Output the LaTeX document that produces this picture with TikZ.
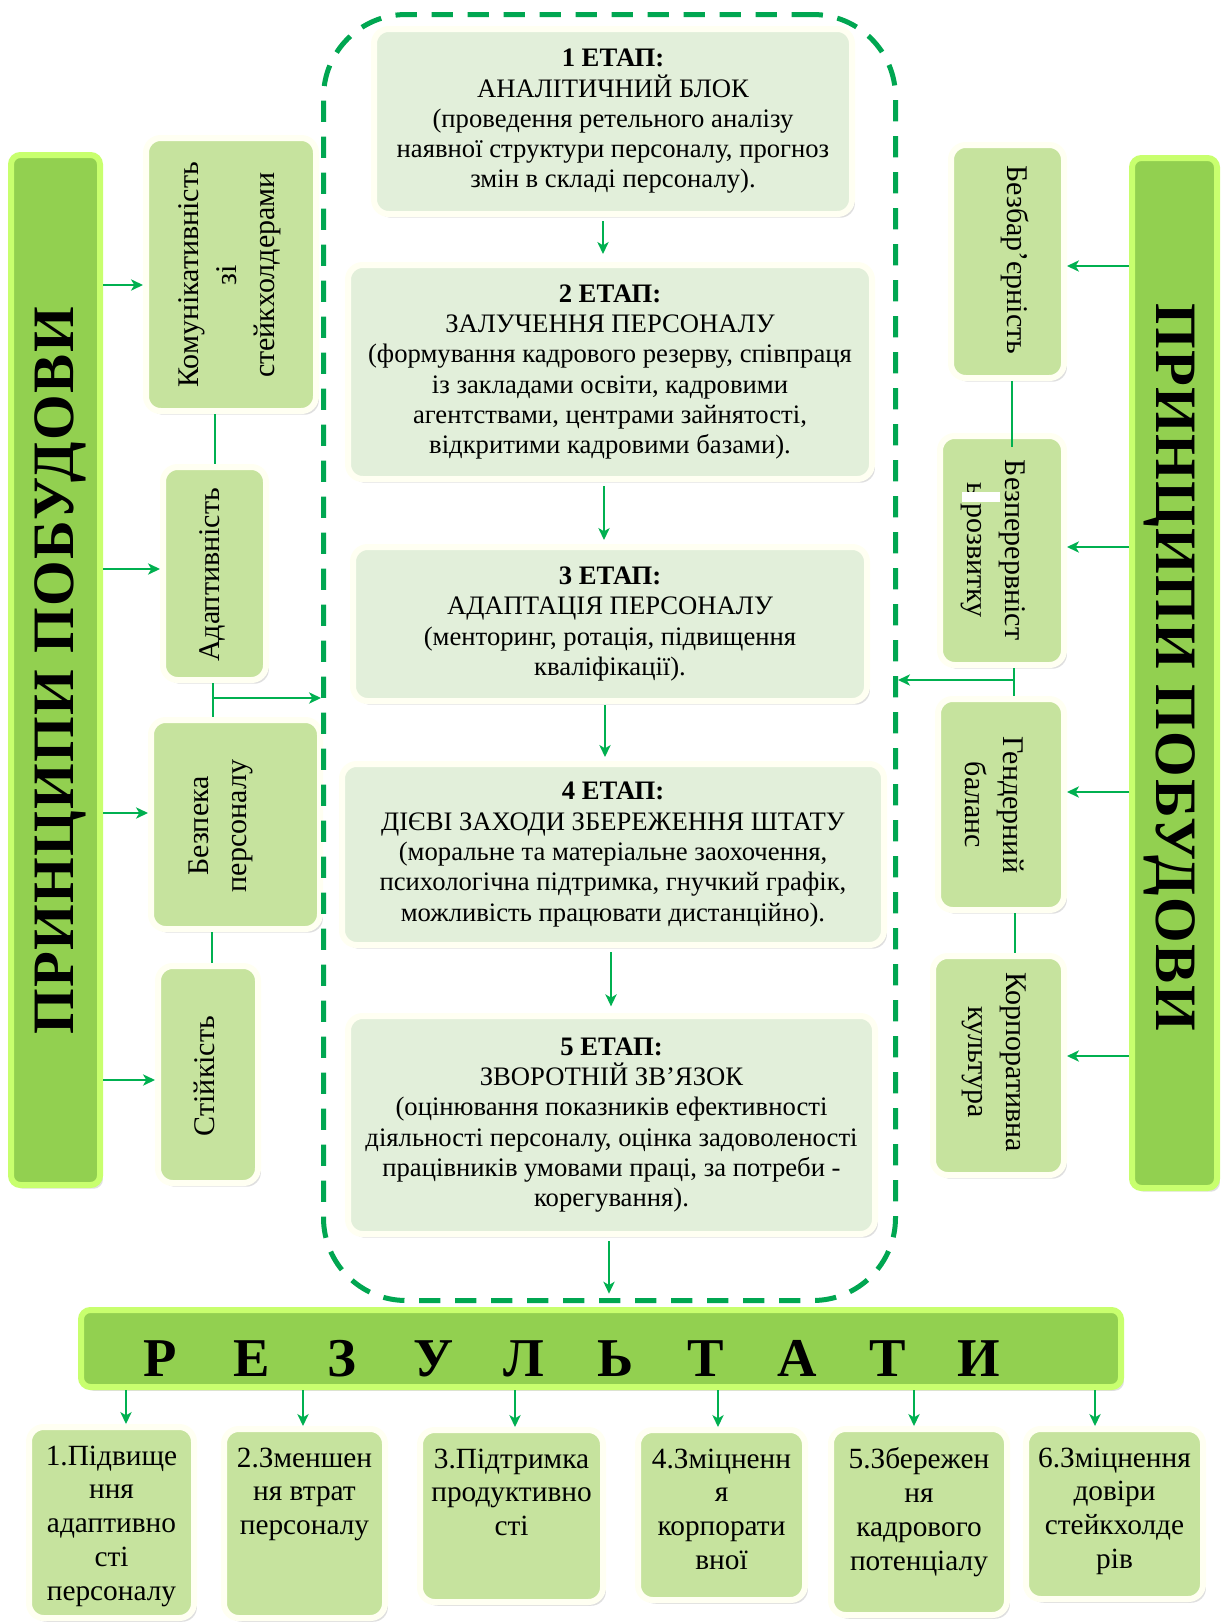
\documentclass[tikz,border=0pt]{standalone}
\usepackage{fontspec}
\setmainfont{Liberation Serif}[BoldFont={Liberation Serif Bold},ItalicFont={Liberation Serif Italic}]
\newfontfamily\boldserif{Liberation Serif Bold}
\newfontfamily\barserif{Liberation Serif Bold}[LetterSpace=2.5]
\usetikzlibrary{arrows.meta,shadows}
\definecolor{bargreen}{RGB}{146,208,80}
\definecolor{barlight}{RGB}{200,255,110}
\definecolor{pfill}{RGB}{198,227,158}
\definecolor{sfill}{RGB}{226,239,218}
\definecolor{dashg}{RGB}{0,166,81}
\definecolor{arrg}{RGB}{0,176,80}
\definecolor{glowc}{RGB}{255,255,242}
\newcommand\reslet[1]{\makebox[68.2pt]{#1}}
\begin{document}
\begin{tikzpicture}[x=0.75pt,y=-0.75pt,
  shd/.style={drop shadow={shadow xshift=2.2pt,shadow yshift=-2.8pt,opacity=0.25}},
  glow/.style={draw=glowc,line width=4.5pt,rounded corners=11pt,inner sep=0pt,shd},
  wh/.style 2 args={minimum width=#1*0.75pt-4.5pt,minimum height=#2*0.75pt-4.5pt},
  stagebox/.style={glow,fill=sfill,font=\fontsize{20}{22.7}\selectfont,align=center},
  pbox/.style={glow,fill=pfill},
  bar/.style={draw=barlight,line width=4.5pt,fill=bargreen,rounded corners=7pt,inner sep=0pt,shd},
  bartxt/.style={font=\fontsize{44}{48}\selectfont\barserif,inner sep=0pt},
  ptxt/.style={font=\fontsize{22.5}{28.5}\selectfont,align=center,inner sep=0pt},
  rtxt/.style={font=\fontsize{22}{25.4}\selectfont,align=center,inner sep=0pt,anchor=north,yshift=-16pt},
  arr/.style={draw=arrg,line width=1.1pt,-{Stealth[length=9pt,width=8.5pt,inset=2.5pt]}},
  link/.style={draw=arrg,line width=1pt}]
\fill[white] (0,0) rectangle (1223,1624);
\useasboundingbox (0,0) rectangle (1223,1624);

% side bars
\node[bar,wh={95}{1036}] (LB) at (55.5,670) {};
\node[bartxt,rotate=90] (LBt) at (60,671) {ПРИНЦИПИ ПОБУДОВИ};
\node[bar,wh={91}{1036}] (RB) at (1174.5,673) {};
\node[bartxt,rotate=-90] (RBt) at (1170,667) {ПРИНЦИПИ ПОБУДОВИ};

% left principle boxes
\node[pbox,wh={176}{279}] (L1) at (231,274.5) {};
\node[ptxt,rotate=90] (L1t) at (230,275) {Комунікативність\\зі\\стейкхолдерами};
\node[pbox,wh={109}{219}] (L2) at (214.5,573.5) {};
\node[ptxt,rotate=90] (L2t) at (212,575) {Адаптивність};
\node[pbox,wh={175}{215}] (L3) at (235.5,824.5) {};
\node[ptxt,rotate=90] (L3t) at (221,826) {Безпека\\персоналу};
\node[pbox,wh={106}{223}] (L4) at (208,1074.5) {};
\node[ptxt,rotate=90] (L4t) at (204,1076) {Стійкість};

% right principle boxes
\node[pbox,wh={119}{239}] (R1) at (1007.5,261.5) {};
\node[ptxt,rotate=-90] (R1t) at (1015,260) {Безбар’єрність};
\node[pbox,wh={130}{235}] (R2) at (1002,550.5) {};
\node[ptxt,rotate=-90] (R2t) at (993,550) {Безперервніст\\ь розвитку};
\fill[white] (962,492) rectangle (1000,502);
\node[pbox,wh={132}{217}] (R3) at (1001,804.5) {};
\node[ptxt,rotate=-90] (R3t) at (995,805) {Гендерний\\баланс};
\node[pbox,wh={137}{225}] (R4) at (998.5,1065.5) {};
\node[ptxt,rotate=-90] (R4t) at (994,1062) {Корпоративна\\культура};

% stages
\node[stagebox,wh={484}{191}] (S1) at (613,121.5) {{\boldserif 1 ЕТАП:}\\АНАЛІТИЧНИЙ БЛОК\\(проведення ретельного аналізу\\наявної структури персоналу, прогноз\\змін в складі персоналу).};
\node[stagebox,wh={530}{220}] (S2) at (610,372) {{\boldserif 2 ЕТАП:}\\ЗАЛУЧЕННЯ ПЕРСОНАЛУ\\(формування кадрового резерву, співпраця\\із закладами освіти, кадровими\\агентствами, центрами зайнятості,\\відкритими кадровими базами).};
\node[stagebox,wh={520}{160}] (S3) at (610,624) {{\boldserif 3 ЕТАП:}\\АДАПТАЦІЯ ПЕРСОНАЛУ\\(менторинг, ротація, підвищення\\кваліфікації).};
\node[stagebox,wh={548}{187}] (S4) at (613,854.5) {{\boldserif 4 ЕТАП:}\\ДІЄВІ ЗАХОДИ ЗБЕРЕЖЕННЯ ШТАТУ\\(моральне та матеріальне заохочення,\\психологічна підтримка, гнучкий графік,\\можливість працювати дистанційно).};
\node[stagebox,wh={533}{224}] (S5) at (611.5,1125) {{\boldserif 5 ЕТАП:}\\ЗВОРОТНІЙ ЗВ’ЯЗОК\\(оцінювання показників ефективності\\діяльності персоналу, оцінка задоволеності\\працівників умовами праці, за потреби -\\корегування).};

% dashed container
\node[draw=dashg,line width=3.75pt,dash pattern=on 16pt off 11pt,rounded corners=62pt,
  minimum width=577*0.75pt-3.75pt,minimum height=1291*0.75pt-3.75pt,inner sep=0pt] (cont) at (609.5,657.5) {};

% results bar
\node[bar,wh={1046}{83}] (RES) at (601,1348.5) {};
\node[font=\fontsize{41}{44}\selectfont\boldserif,inner sep=0pt] (REStxt) at (569.6,1359)
  {\reslet{Р}\reslet{Е}\reslet{З}\reslet{У}\reslet{Л}\reslet{Ь}\reslet{Т}\reslet{А}\reslet{Т}\reslet{И}};

% result boxes
\node[pbox,wh={171}{197}] (B1) at (111.5,1522.5) {};
\node[rtxt] (B1t) at (B1.north) {1.Підвище\\ння\\адаптивно\\сті\\персоналу};
\node[pbox,wh={167}{195}] (B2) at (304.5,1523.5) {};
\node[rtxt] (B2t) at (B2.north) {2.Зменшен\\ня втрат\\персоналу};
\node[pbox,wh={189}{178}] (B3) at (511.5,1516) {};
\node[rtxt] (B3t) at (B3.north) {3.Підтримка\\продуктивно\\сті};
\node[pbox,wh={173}{176}] (B4) at (721.5,1515) {};
\node[rtxt] (B4t) at (B4.north) {4.Зміцненн\\я\\корпорати\\вної};
\node[pbox,wh={182}{192}] (B5) at (919,1522) {};
\node[rtxt] (B5t) at (B5.north) {5.Збережен\\ня\\кадрового\\потенціалу};
\node[pbox,wh={183}{176}] (B6) at (1114.5,1514) {};
\node[rtxt] (B6t) at (B6.north) {6.Зміцнення\\довіри\\стейкхолде\\рів};

% left arrows and links
\draw[arr] (LB.east |- 0,285) -- (L1.west |- 0,285);
\draw[arr] (LB.east |- 0,569) -- (L2.west |- 0,569);
\draw[arr] (LB.east |- 0,813) -- (L3.west |- 0,813);
\draw[arr] (LB.east |- 0,1080) -- (L4.west |- 0,1080);
\draw[link] (L1.south -| 215,0) -- (L2.north -| 215,0);
\draw[link] (L2.south -| 213,0) -- (L3.north -| 213,0);
\draw[link] (L3.south -| 212,0) -- (L4.north -| 212,0);
\coordinate (jL) at (213,698);
\draw[arr] (jL) -- (cont.west |- jL);

% right arrows and links
\draw[arr] (RB.west |- 0,266) -- (R1.east |- 0,266);
\draw[arr] (RB.west |- 0,547) -- (R2.east |- 0,547);
\draw[arr] (RB.west |- 0,792) -- (R3.east |- 0,792);
\draw[arr] (RB.west |- 0,1056) -- (R4.east |- 0,1056);
\coordinate (r12) at (1012,447);
\draw[link] (R1.south -| r12) -- (r12);
\draw[link] (R2.south -| 1014,0) -- (R3.north -| 1014,0);
\draw[link] (R3.south -| 1015,0) -- (R4.north -| 1015,0);
\coordinate (jR) at (1014,680);
\draw[arr] (jR) -- (cont.east |- jR);

% stage arrows
\draw[arr,shorten <=3pt,shorten >=6pt] (S1.south -| 603,0) -- (S2.north -| 603,0);
\draw[arr,shorten <=3pt,shorten >=3pt] (S2.south -| 604,0) -- (S3.north -| 604,0);
\draw[arr,shorten <=1pt,shorten >=3pt] (S3.south -| 605,0) -- (S4.north -| 605,0);
\draw[arr,shorten <=3pt,shorten >=5pt] (S4.south -| 611,0) -- (S5.north -| 611,0);
\draw[arr,shorten <=3pt,shorten >=10pt] (S5.south -| 609,0) -- (RES.north -| 609,0);

% result arrows
\foreach \i/\xx in {1/126,2/303,3/515,4/718,5/914,6/1095}
  \draw[arr] (RES.south -| \xx,0) -- (B\i.north -| \xx,0);
\end{tikzpicture}
\end{document}
